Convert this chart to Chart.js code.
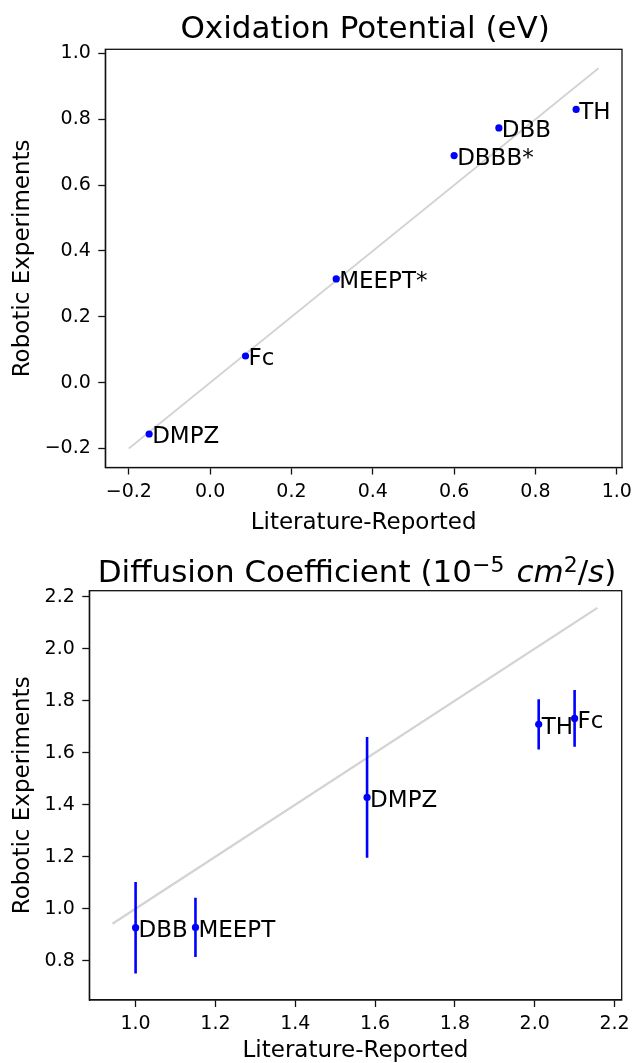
<!DOCTYPE html>
<html>
<head>
<meta charset="utf-8">
<script src="https://cdn.jsdelivr.net/npm/chart.js@4/dist/chart.umd.min.js"></script>
<style>
  html, body { margin: 0; padding: 0; background: #fff; overflow: hidden; }
  canvas { position: absolute; left: 0; }
  #c1 { top: 0; }
  #c2 { top: 540px; }
</style>
</head>
<body>
<canvas id="c1" width="632" height="540"></canvas>
<canvas id="c2" width="632" height="523"></canvas>
<script>
// ---------- Data: Oxidation Potential ----------
const oxNames  = ['DMPZ', 'Fc', 'MEEPT*', 'DBBB*', 'DBB', 'TH'];
const oxLit    = [-0.15, 0.087, 0.31, 0.60, 0.71, 0.90];
const oxRobot  = [-0.156, 0.081, 0.315, 0.690, 0.774, 0.830];
const oxLine   = [-0.2, 0.955];
const oxTicks  = [-0.2, 0.0, 0.2, 0.4, 0.6, 0.8, 1.0];

// ---------- Data: Diffusion Coefficient ----------
const difNames = ['DBB', 'MEEPT', 'DMPZ', 'TH', 'Fc'];
const difLit   = [1.00, 1.15, 1.58, 2.01, 2.10];
const difRobot = [0.927, 0.928, 1.428, 1.709, 1.732];
const difErr   = [0.176, 0.114, 0.232, 0.097, 0.109];
const difLine  = [0.942, 2.157];
const difXTicks = [1.0, 1.2, 1.4, 1.6, 1.8, 2.0, 2.2];
const difYTicks = [0.8, 1.0, 1.2, 1.4, 1.6, 1.8, 2.0, 2.2];

const FONT = 'DejaVu Sans';
const BLUE = '#0000ff';

function fmt(v) {
  if (Math.abs(v) < 1e-9) return '0.0';
  return (v < 0 ? '\u2212' : '') + Math.abs(v).toFixed(1);
}

const framePlugin = {
  id: 'frame',
  afterDatasetsDraw(chart) {
    const a = chart.chartArea, ctx = chart.ctx;
    ctx.save();
    ctx.strokeStyle = '#111';
    ctx.lineWidth = 1.3;
    ctx.strokeRect(a.left, a.top, a.right - a.left, a.bottom - a.top);
    ctx.restore();
  }
};

function labelPlugin(names, xs, ys) {
  return {
    id: 'pointLabels',
    afterDatasetsDraw(chart) {
      const ctx = chart.ctx, sx = chart.scales.x, sy = chart.scales.y;
      ctx.save();
      ctx.font = '23px "' + FONT + '"';
      ctx.fillStyle = '#000';
      ctx.textAlign = 'left';
      ctx.textBaseline = 'alphabetic';
      names.forEach((n, i) => {
        const px = sx.getPixelForValue(xs[i]) + 3;
        const py = sy.getPixelForValue(ys[i]) + 23 * 0.365 + 1;
        ctx.fillText(n, px, py);
      });
      ctx.restore();
    }
  };
}

function titlePlugin(segments, baseline) {
  return {
    id: 'richTitle',
    afterDraw(chart) {
      const ctx = chart.ctx, a = chart.chartArea;
      ctx.save();
      ctx.fillStyle = '#000';
      ctx.textBaseline = 'alphabetic';
      ctx.textAlign = 'left';
      let total = 0;
      segments.forEach(s => {
        ctx.font = (s.italic ? 'italic ' : '') + s.size + 'px "' + FONT + '"';
        s.w = ctx.measureText(s.text).width;
        total += s.w + (s.gap || 0);
      });
      let x = (a.left + a.right) / 2 - total / 2 + 1.5;
      segments.forEach(s => {
        ctx.font = (s.italic ? 'italic ' : '') + s.size + 'px "' + FONT + '"';
        ctx.fillText(s.text, x, baseline - (s.rise || 0));
        x += s.w + (s.gap || 0);
      });
      ctx.restore();
    }
  };
}

function axisOpts(min, max, ticksArr, isY, width, titleText, titlePad, titleLH) {
  return {
    type: 'linear',
    min: min, max: max,
    afterBuildTicks(scale) { scale.ticks = ticksArr.map(v => ({ value: v })); },
    afterFit(scale) {
      if (isY) { scale.width = width; scale.paddingTop = 0; scale.paddingBottom = 0; }
      else { scale.height = width; scale.paddingLeft = 0; scale.paddingRight = 0; }
    },
    grid: { display: true, drawOnChartArea: false, drawTicks: true, tickLength: 7, tickColor: '#111', tickWidth: 1.3 },
    border: { display: true, color: '#111', width: 1.3 },
    ticks: {
      autoSkip: false, maxRotation: 0, minRotation: 0,
      padding: isY ? 7.5 : 6,
      color: '#000',
      font: { family: FONT, size: 19 },
      callback: v => fmt(v)
    },
    title: {
      display: true, text: titleText, color: '#000',
      font: { family: FONT, size: 23, lineHeight: titleLH },
      padding: titlePad
    }
  };
}

// ---------- Chart 1 ----------
new Chart(document.getElementById('c1'), {
  type: 'scatter',
  data: {
    datasets: [
      { data: oxLit.map((x, i) => ({ x: x, y: oxRobot[i] })), backgroundColor: BLUE, borderWidth: 0, pointRadius: 3.6 },
      { data: oxLine.map(v => ({ x: v, y: v })), showLine: true, borderColor: '#d3d3d3', borderWidth: 1.8, pointRadius: 0 }
    ]
  },
  options: {
    responsive: false, animation: false, devicePixelRatio: 1,
    layout: { padding: { top: 49.3, left: 0, right: 10, bottom: 0 } },
    plugins: { legend: { display: false }, tooltip: { enabled: false }, title: { display: false } },
    scales: {
      x: axisOpts(-0.2578, 1.0128, oxTicks, false, 72.5, 'Literature-Reported', { top: 0, bottom: 3.2 }, 1.2),
      y: axisOpts(-0.2578, 1.0128, oxTicks, true, 105.3, 'Robotic Experiments', { top: 9, bottom: 0 }, 1.2)
    }
  },
  plugins: [framePlugin, labelPlugin(oxNames, oxLit, oxRobot),
    titlePlugin([{ text: 'Oxidation Potential (eV)', size: 31 }], 38)]
});

// ---------- Chart 2 ----------
const errSets = difLit.map((x, i) => ({
  data: [{ x: x, y: difRobot[i] - difErr[i] }, { x: x, y: difRobot[i] + difErr[i] }],
  showLine: true, borderColor: BLUE, borderWidth: 2.6, pointRadius: 0, borderCapStyle: 'butt'
}));

new Chart(document.getElementById('c2'), {
  type: 'scatter',
  data: {
    datasets: [
      { data: difLit.map((x, i) => ({ x: x, y: difRobot[i] })), backgroundColor: BLUE, borderWidth: 0, pointRadius: 3.6 },
      ...errSets,
      { data: difLine.map(v => ({ x: v, y: v })), showLine: true, borderColor: '#d3d3d3', borderWidth: 2.3, pointRadius: 0 }
    ]
  },
  options: {
    responsive: false, animation: false, devicePixelRatio: 1,
    layout: { padding: { top: 50.7, left: 0, right: 10.3, bottom: 0 } },
    plugins: { legend: { display: false }, tooltip: { enabled: false }, title: { display: false } },
    scales: {
      x: axisOpts(0.884, 2.218, difXTicks, false, 63, 'Literature-Reported', { top: 0, bottom: 0.5 }, 1.0),
      y: axisOpts(0.649, 2.223, difYTicks, true, 89.3, 'Robotic Experiments', { top: 9, bottom: 0 }, 1.2)
    }
  },
  plugins: [framePlugin, labelPlugin(difNames, difLit, difRobot),
    titlePlugin([
      { text: 'Diffusion Coefficient (10', size: 31 },
      { text: '\u22125', size: 22, rise: 10, gap: 12 },
      { text: 'cm', size: 31, italic: true },
      { text: '2', size: 22, rise: 10 },
      { text: '/', size: 31 },
      { text: 's', size: 31, italic: true },
      { text: ')', size: 31 }
    ], 42.4)]
});
</script>
</body>
</html>
